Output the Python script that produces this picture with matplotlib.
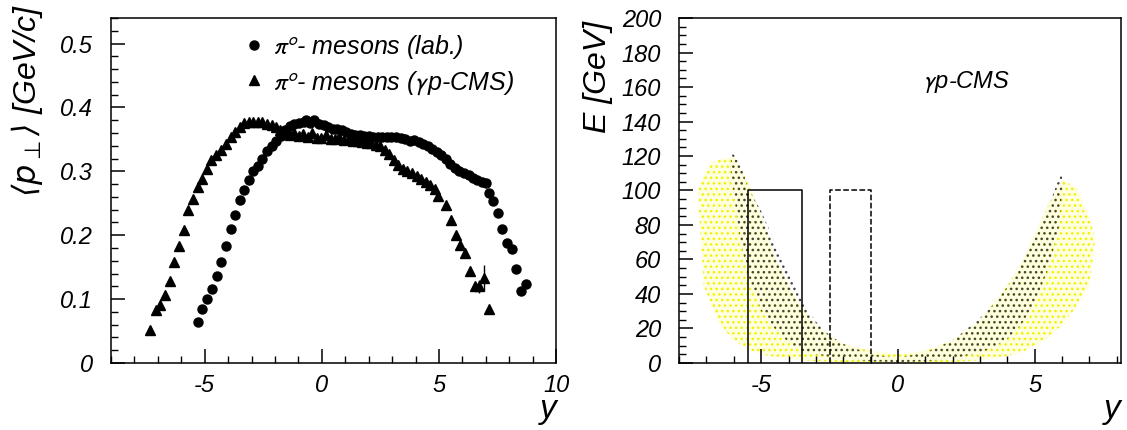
import numpy as np
import matplotlib
matplotlib.use("Agg")
import matplotlib.pyplot as plt
from matplotlib.ticker import MultipleLocator

plt.rcParams['font.family'] = ['Liberation Sans', 'DejaVu Sans']
plt.rcParams['font.style'] = 'italic'
plt.rcParams['mathtext.fontset'] = 'stixsans'
plt.rcParams['axes.unicode_minus'] = False
plt.rcParams['hatch.linewidth'] = 1.0

# --- left panel: <pT> vs rapidity ---
lab_y = [-5.28, -5.11, -4.91, -4.70, -4.49, -4.30, -4.10, -3.89, -3.70, -3.51,
         -3.32, -3.12, -2.93, -2.74, -2.55, -2.34, -2.15, -1.95, -1.76, -1.57,
         -1.36, -1.17, -0.97, -0.78, -0.66, -0.52, -0.32, -0.13, 0.07, 0.26,
         0.46, 0.65, 0.84, 1.04, 1.23, 1.42, 1.62, 1.81, 2.00, 2.20,
         2.39, 2.58, 2.78, 2.97, 3.16, 3.36, 3.55, 3.74, 3.94, 4.13,
         4.32, 4.52, 4.71, 4.90, 5.10, 5.29, 5.48, 5.68, 5.87, 6.06,
         6.26, 6.45, 6.64, 6.84, 7.00, 7.12, 7.31, 7.52, 7.69, 7.90,
         8.10, 8.29, 8.50, 8.72]
lab_pt = [0.064, 0.084, 0.100, 0.115, 0.136, 0.158, 0.183, 0.210, 0.232, 0.255,
          0.271, 0.287, 0.300, 0.309, 0.320, 0.332, 0.340, 0.347, 0.355, 0.364,
          0.371, 0.374, 0.375, 0.377, 0.380, 0.376, 0.380, 0.374, 0.372, 0.369,
          0.367, 0.366, 0.364, 0.361, 0.359, 0.357, 0.357, 0.356, 0.356, 0.354,
          0.353, 0.353, 0.354, 0.353, 0.353, 0.352, 0.350, 0.348, 0.349, 0.346,
          0.343, 0.340, 0.335, 0.330, 0.325, 0.320, 0.312, 0.305, 0.300, 0.297,
          0.294, 0.290, 0.287, 0.284, 0.281, 0.266, 0.253, 0.234, 0.210, 0.187,
          0.179, 0.147, 0.113, 0.123]
lab_err = [0.006] + [0.0] * 73

cms_y = [-7.33, -7.10, -6.90, -6.71, -6.50, -6.30, -6.09, -5.90, -5.71, -5.51,
         -5.30, -5.11, -4.91, -4.72, -4.51, -4.30, -4.10, -3.89, -3.70, -3.50,
         -3.31, -3.12, -2.93, -2.73, -2.54, -2.35, -2.15, -1.96, -1.77, -1.57,
         -1.38, -1.19, -0.99, -0.80, -0.60, -0.41, -0.21, -0.02, 0.17, 0.37,
         0.56, 0.75, 0.95, 1.14, 1.33, 1.53, 1.72, 1.91, 2.11, 2.30,
         2.49, 2.69, 2.88, 3.07, 3.27, 3.46, 3.65, 3.85, 4.04, 4.23,
         4.43, 4.62, 4.81, 4.97, 5.30, 5.49, 5.71, 5.90, 6.12, 6.31,
         6.52, 6.71, 6.90, 7.13]
cms_pt = [0.052, 0.083, 0.090, 0.107, 0.128, 0.158, 0.183, 0.208, 0.239, 0.256,
          0.275, 0.288, 0.304, 0.317, 0.325, 0.334, 0.343, 0.353, 0.362, 0.370,
          0.375, 0.378, 0.378, 0.377, 0.377, 0.374, 0.373, 0.369, 0.365, 0.361,
          0.357, 0.360, 0.355, 0.358, 0.353, 0.360, 0.352, 0.352, 0.357, 0.351,
          0.351, 0.353, 0.349, 0.350, 0.347, 0.348, 0.346, 0.344, 0.345, 0.342,
          0.340, 0.334, 0.327, 0.318, 0.310, 0.303, 0.300, 0.297, 0.292, 0.288,
          0.284, 0.279, 0.272, 0.261, 0.247, 0.224, 0.201, 0.185, 0.172, 0.144,
          0.120, 0.120, 0.133, 0.085]
cms_err = [0.006] + [0.0] * 70 + [0.010, 0.020, 0.0]

# --- right panel: E vs rapidity, extent of the two point clouds ---
yel_y = [-7.3, -7.1, -6.8, -6.5, -6.0, -5.5, -5.0, -4.5, -4.0, -3.5, -3.0, -2.5,
         -2.0, -1.0, 0.0, 1.0, 2.0, 3.0, 4.0, 4.5, 5.0, 5.5, 6.0, 6.5, 7.0, 7.2]
yel_lo = [95, 45, 32, 22, 13, 8, 5, 3.5, 2.5, 1.5, 1, 0.8,
          0.5, 0.3, 0.2, 0.3, 0.5, 1.5, 4, 6, 10, 15, 22, 32, 45, 70]
yel_hi = [100, 110, 116, 118, 120, 105, 85, 62, 45, 32, 22, 16,
          11, 7, 5, 7, 13, 25, 45, 58, 75, 92, 106, 102, 85, 72]

blk_y = [-6.1, -5.8, -5.5, -5.0, -4.5, -4.0, -3.5, -3.0, -2.5, -2.0, -1.0,
         0.0, 1.0, 2.0, 3.0, 3.5, 4.0, 4.5, 5.0, 5.5, 5.9, 6.0]
blk_lo = [110, 75, 52, 30, 20, 12, 7, 5, 3.5, 2.5, 1,
          0.5, 1, 2.5, 6, 9, 14, 22, 35, 55, 80, 100]
blk_hi = [122, 118, 102, 88, 70, 52, 36, 24, 16, 11, 5,
          3, 6, 13, 26, 34, 44, 57, 72, 90, 108, 110]

box_solid = (-5.5, -3.5, 100)
box_dashed = (-2.5, -1.0, 100)

fig = plt.figure(figsize=(11.27, 4.30), dpi=100)
ax1 = fig.add_axes([0.0985, 0.156, 0.395, 0.802])
ax2 = fig.add_axes([0.6026, 0.156, 0.392, 0.802])

def style(ax):
    for s in ax.spines.values():
        s.set_linewidth(1.1)
    ax.tick_params(which='both', direction='in', top=False, right=False, labelsize=17)
    ax.tick_params(which='major', length=10, width=1.1)
    ax.tick_params(which='minor', length=5, width=1.0)
    ax.tick_params(axis='x', pad=8)

# left
ax1.errorbar(lab_y, lab_pt, yerr=lab_err, fmt='none', ecolor='black', elinewidth=1)
ax1.errorbar(cms_y, cms_pt, yerr=cms_err, fmt='none', ecolor='black', elinewidth=1)
ax1.plot(lab_y, lab_pt, 'o', color='black', ms=6.5,
         label=r'$\pi^{o}$- mesons (lab.)')
ax1.plot(cms_y, cms_pt, '^', color='black', ms=6.5,
         label=r'$\pi^{o}$- mesons ($\gamma$p-CMS)')
ax1.set_xlim(-9, 10)
ax1.set_ylim(0, 0.54)
ax1.xaxis.set_major_locator(MultipleLocator(5))
ax1.xaxis.set_minor_locator(MultipleLocator(1))
ax1.yaxis.set_minor_locator(MultipleLocator(0.02))
ax1.set_yticks([0, 0.1, 0.2, 0.3, 0.4, 0.5])
ax1.set_yticklabels(['0', '0.1', '0.2', '0.3', '0.4', '0.5'])
style(ax1)
ax1.tick_params(axis='y', pad=13)
ax1.legend(loc='upper left', bbox_to_anchor=(0.265, 0.985), frameon=False,
           fontsize=18, handletextpad=0.15, labelspacing=0.3, handlelength=1.2,
           borderaxespad=0)
ax1.set_xlabel('y', fontsize=24, loc='right', labelpad=-2)
fig.text(27 / 1127, 1 - 197 / 430, r'$\langle p_{\bot}\rangle$ [GeV/c]',
         rotation=90, fontsize=23, ha='center', va='bottom',
         math_fontfamily='dejavusans')

# right
ax2.fill_between(yel_y, yel_lo, yel_hi, facecolor='#fefee0', edgecolor='#f2f200',
                 hatch='...', linewidth=0)
ax2.fill_between(blk_y, blk_lo, blk_hi, facecolor='none', edgecolor='#444444',
                 hatch='...', linewidth=0)
for (x0, x1, top), ls in [(box_solid, '-'), (box_dashed, '--')]:
    ax2.plot([x0, x0, x1, x1], [0, top, top, 0], color='black', lw=1.1, ls=ls)
ax2.text(2.5, 163, r'$\gamma$p-CMS', fontsize=17, ha='center', va='center')
ax2.set_xlim(-8, 8.15)
ax2.set_ylim(0, 200)
ax2.xaxis.set_major_locator(MultipleLocator(5))
ax2.xaxis.set_minor_locator(MultipleLocator(1))
ax2.yaxis.set_major_locator(MultipleLocator(20))
ax2.yaxis.set_minor_locator(MultipleLocator(5))
style(ax2)
ax2.tick_params(axis='y', pad=13)
ax2.set_xlabel('y', fontsize=24, loc='right', labelpad=-2)
fig.text(598 / 1127, 1 - 133 / 430, 'E [GeV]', rotation=90, fontsize=23,
         ha='center', va='bottom')

fig.savefig('out.png', dpi=100)
